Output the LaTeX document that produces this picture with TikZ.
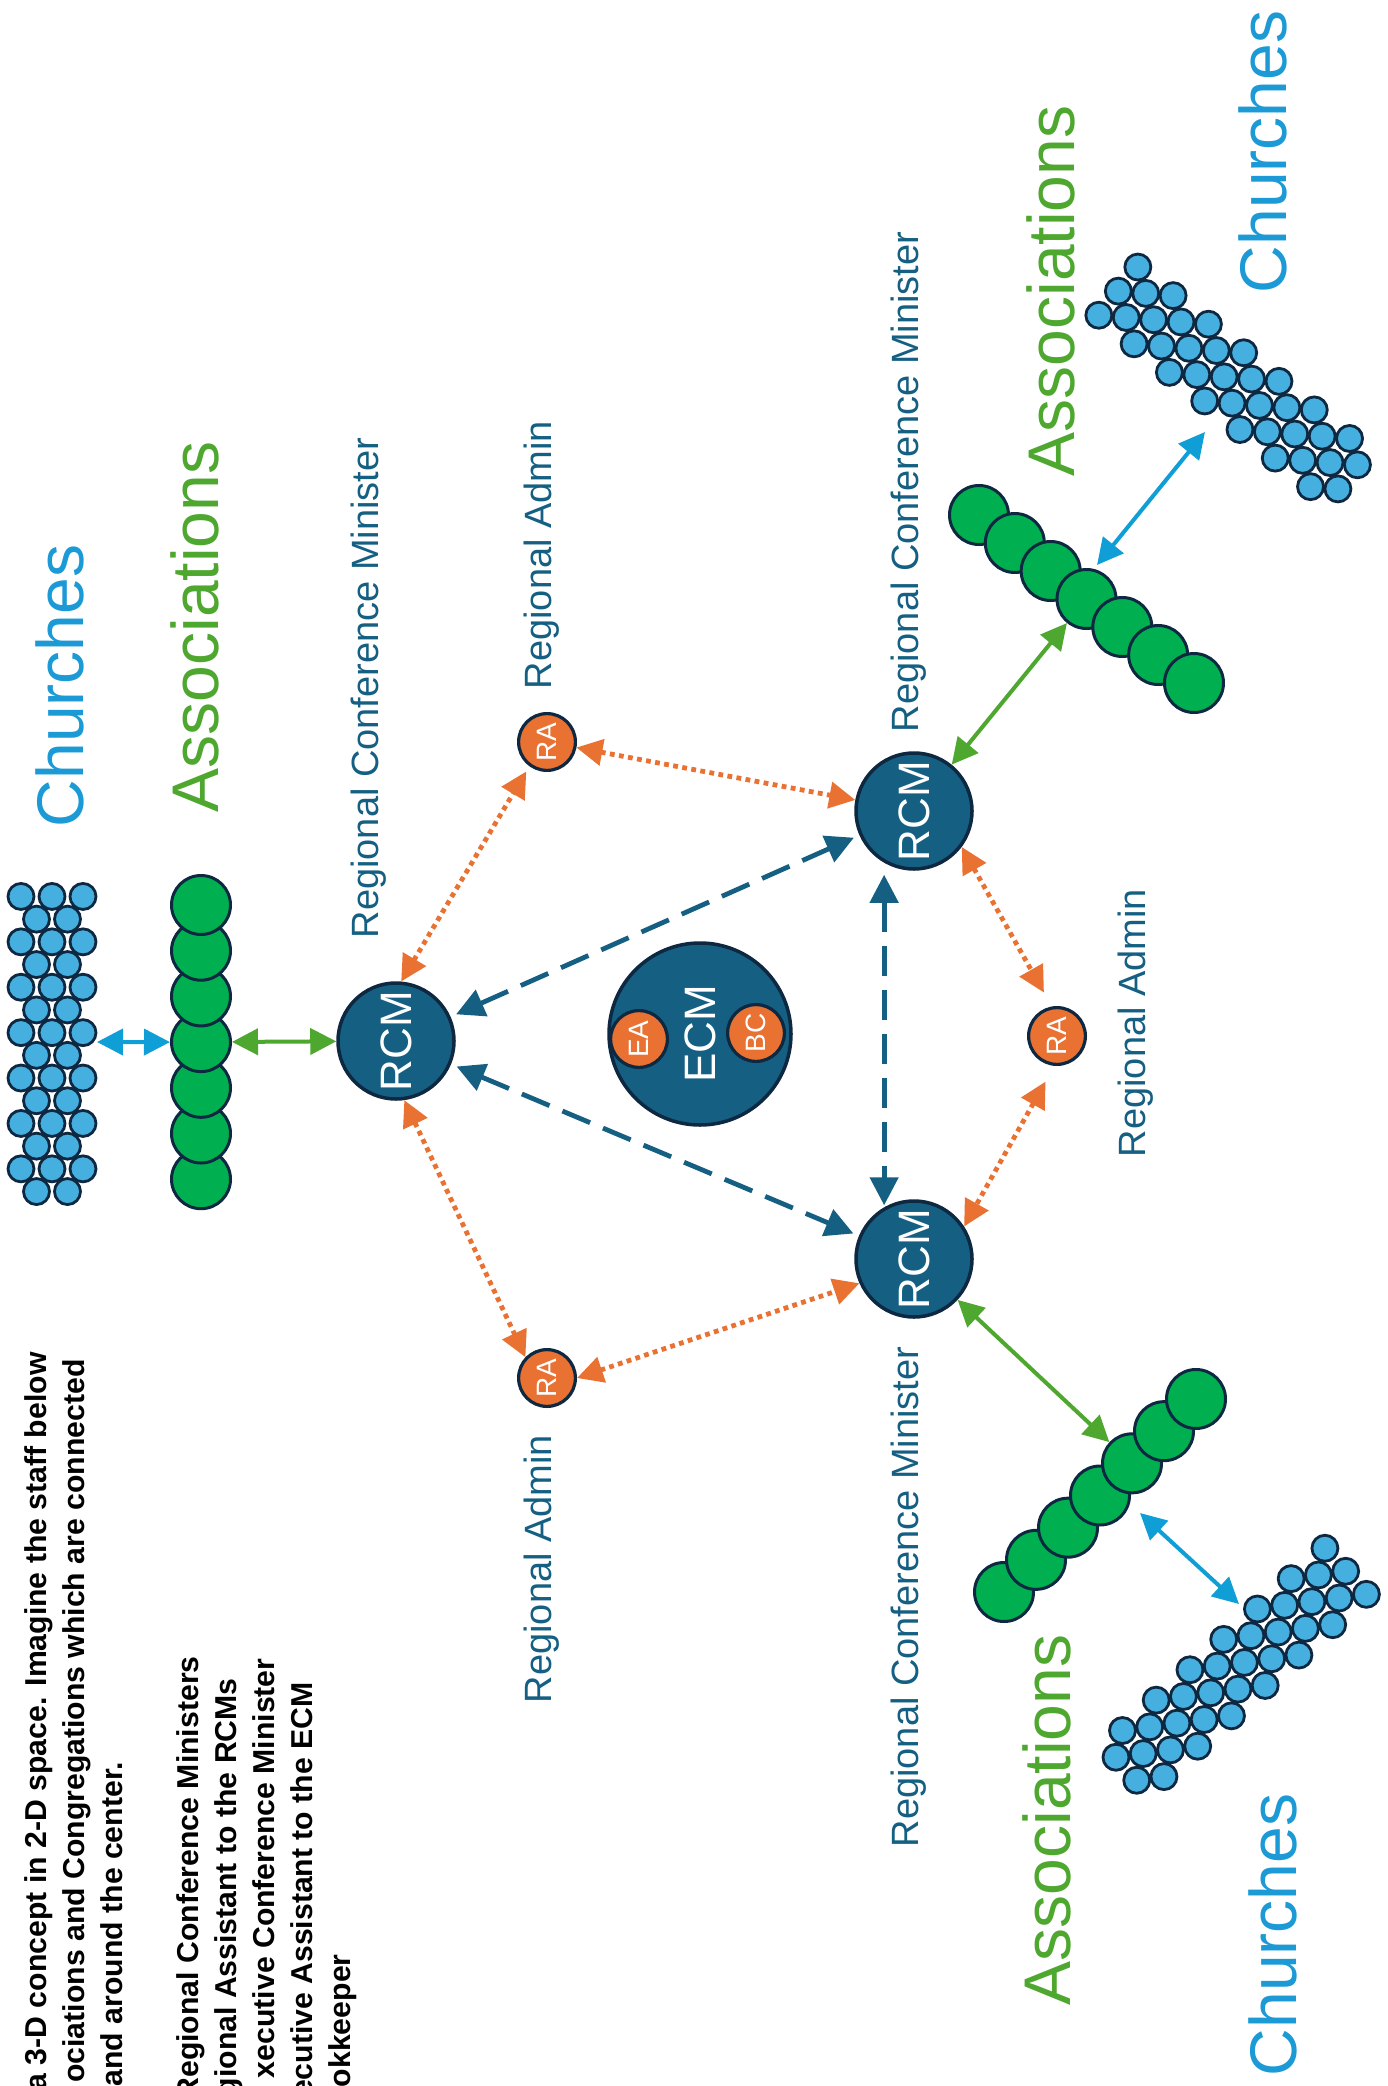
\documentclass[tikz,border=0pt]{standalone}
\usepackage{fontspec}
\setmainfont{Liberation Sans}
\usepackage{graphicx}
\usetikzlibrary{arrows.meta}
\definecolor{rcmblue}{HTML}{156082}
\definecolor{navy}{HTML}{0E2841}
\definecolor{orng}{HTML}{E97132}
\definecolor{grn}{HTML}{4EA72E}
\definecolor{assocgreen}{HTML}{00B050}
\definecolor{churchblue}{HTML}{45AFE0}
\definecolor{arrowblue}{HTML}{0F9ED5}
\definecolor{churchtext}{HTML}{1C9AD6}
\begin{document}
\begin{tikzpicture}[x=0.5pt,y=-0.5pt,
  rcm/.style={circle, fill=rcmblue, draw=navy, line width=1.75pt, minimum size=58pt, inner sep=0pt, text=white, font=\fontsize{22}{26}\selectfont},
  ecm/.style={circle, fill=rcmblue, draw=navy, line width=1.75pt, minimum size=91pt, inner sep=0pt, text=white, font=\fontsize{22}{26}\selectfont},
  small/.style={circle, fill=orng, draw=navy, line width=1.6pt, minimum size=28.4pt, inner sep=0pt, text=white, font=\fontsize{14}{16}\selectfont},
  assoc/.style={circle, fill=assocgreen, draw=navy, line width=1.5pt, minimum size=29.5pt, inner sep=0pt},
  church/.style={circle, fill=churchblue, draw=navy, line width=1.4pt, minimum size=13pt, inner sep=0pt},
  rolelabel/.style={rotate=90, text=rcmblue, inner sep=0pt, font=\fontsize{19}{22}\selectfont},
  grouplabel/.style={rotate=90, inner sep=0pt, font=\fontsize{33}{38}\selectfont},
  note/.style={rotate=90, anchor=base east, inner sep=0pt, font=\fontsize{15.1}{18}\selectfont\bfseries},
  dasharrow/.style={draw=rcmblue, line width=2.4pt, dash pattern=on 15pt off 7pt, {Triangle[length=14pt,width=14pt]}-{Triangle[length=14pt,width=14pt]}},
  dotarrow/.style={draw=orng, line width=2.4pt, dash pattern=on 2.4pt off 2.2pt, {Triangle[length=13pt,width=13pt]}-{Triangle[length=13pt,width=13pt]}},
  greenarrow/.style={draw=grn, line width=2pt, {Triangle[length=13pt,width=13pt]}-{Triangle[length=13pt,width=13pt]}},
  bluearrow/.style={draw=arrowblue, line width=2pt, {Triangle[length=13pt,width=13pt]}-{Triangle[length=13pt,width=13pt]}}
]
\fill[white] (0,0) rectangle (1387,2086);
\useasboundingbox (0,0) rectangle (1387,2086);

% ---------- church clusters ----------
\begin{scope}[shift={(52,1044)}]
  \foreach \i in {0,2,...,12} \foreach \x [count=\j] in {-31,0,31}
    \node[church] (cL\i x\j) at (\x,{(\i-6.5)*22.7}) {};
  \foreach \i in {1,3,...,13} \foreach \x [count=\j] in {-15.5,15.5}
    \node[church] (cL\i x\j) at (\x,{(\i-6.5)*22.7}) {};
\end{scope}
\begin{scope}[shift={(1233,384)}, rotate=51]
  \foreach \i in {0,2,...,12} \foreach \x [count=\j] in {-31,0,31}
    \node[church] (cT\i x\j) at (\x,{(\i-6.5)*22.7}) {};
  \foreach \i in {1,3,...,13} \foreach \x [count=\j] in {-15.5,15.5}
    \node[church] (cT\i x\j) at (\x,{(\i-6.5)*22.7}) {};
\end{scope}
\begin{scope}[shift={(1236,1670)}, rotate=-48]
  \foreach \i in {0,2,...,12} \foreach \x [count=\j] in {-31,0,31}
    \node[church] (cB\i x\j) at (\x,{(\i-6.5)*22.7}) {};
  \foreach \i in {1,3,...,13} \foreach \x [count=\j] in {-15.5,15.5}
    \node[church] (cB\i x\j) at (\x,{(\i-6.5)*22.7}) {};
\end{scope}

% ---------- association chains ----------
\foreach \k in {6,5,...,0}
  \node[assoc] (asL\k) at (201,{905+45.7*\k}) {};
\foreach \k in {0,...,6}
  \node[assoc] (asT\k) at ({979+35.83*\k},{515+28*\k}) {};
\foreach \k in {0,...,6}
  \node[assoc] (asB\k) at ({1004+32*\k},{1592-32.17*\k}) {};

% ---------- staff nodes ----------
\node[rcm] (rcmL) at (396,1041) {\rotatebox{90}{RCM}};
\node[rcm] (rcmT) at (914,811) {\rotatebox{90}{RCM}};
\node[rcm] (rcmB) at (914,1259) {\rotatebox{90}{RCM}};
\node[ecm] (ecm) at (700,1034) {\rotatebox{90}{ECM}};
\node[small] (ea) at (639,1039) {\rotatebox{90}{EA}};
\node[small] (bc) at (756,1033) {\rotatebox{90}{BC}};
\node[small] (raT) at (547,742) {\rotatebox{90}{RA}};
\node[small] (raR) at (1057,1036) {\rotatebox{90}{RA}};
\node[small] (raB) at (547,1378) {\rotatebox{90}{RA}};

% ---------- labels ----------
\node[grouplabel, text=churchtext] (chLlab) at (60,686) {Churches};
\node[grouplabel, text=grn] (asLlab) at (195,627) {Associations};
\node[rolelabel] (rcmLlab) at (369,688) {Regional Conference Minister};
\node[rolelabel] (raTlab) at (542,555) {Regional Admin};
\node[rolelabel] (raRlab) at (1136,1023) {Regional Admin};
\node[rolelabel] (raBlab) at (542,1569) {Regional Admin};
\node[rolelabel] (rcmTlab) at (909,482) {Regional Conference Minister};
\node[rolelabel] (rcmBlab) at (909,1597) {Regional Conference Minister};
\node[grouplabel, text=grn] (asTlab) at (1051,291) {Associations};
\node[grouplabel, text=churchtext] (chTlab) at (1263,152) {Churches};
\node[grouplabel, text=grn] (asBlab) at (1047,1820) {Associations};
\node[grouplabel, text=churchtext] (chBlab) at (1273,1935) {Churches};

% ---------- notes ----------
\node[note] (n1) at (46,1352) {a 3-D concept in 2-D space. Imagine the staff below};
\node[note] (n2) at (84,1359) {ociations and Congregations which are connected};
\node[note] (n3) at (122,1762) {and around the center.};
\node[note] (n4) at (198,1656) {Regional Conference Ministers};
\node[note] (n5) at (236,1678) {gional Assistant to the RCMs};
\node[note] (n6) at (274,1658) {xecutive Conference Minister};
\node[note] (n7) at (312,1682) {ecutive Assistant to the ECM};
\node[note] (n8) at (350,1954) {okkeeper};

% ---------- connectors ----------
\coordinate (chLe) at (97,1042);
\coordinate (asTn) at (1097,565);
\coordinate (chTe) at (1205,432);
\coordinate (asBn) at (1140,1513);
\coordinate (chBe) at (1239,1604);

\draw[bluearrow] (chLe) -- (asL3);
\draw[bluearrow] (asTn) -- (chTe);
\draw[bluearrow] (asBn) -- (chBe);

\draw[greenarrow] (asL3) -- (rcmL);
\draw[greenarrow] (rcmT) -- (asT3);
\draw[greenarrow] (rcmB) -- (asB4);

\draw[dasharrow, shorten <=3pt, shorten >=3pt] (rcmL) -- (rcmT);
\draw[dasharrow, shorten <=3pt, shorten >=3pt] (rcmL) -- (rcmB);
\draw[dasharrow, shorten <=6pt, shorten >=1pt] (rcmT.240) -- (rcmB.120);

\draw[dotarrow, shorten >=3pt] (rcmL.85) -- (raT.234);
\draw[dotarrow] (raT) -- (rcmT);
\draw[dotarrow] (rcmL.278) -- (raB.136);
\draw[dotarrow] (raB.east) -- (rcmB.204);
\draw[dotarrow, shorten >=8pt] (rcmT.323) -- (raR.100);
\draw[dotarrow, shorten <=9pt] (raR.265) -- (rcmB.33);
\end{tikzpicture}
\end{document}
